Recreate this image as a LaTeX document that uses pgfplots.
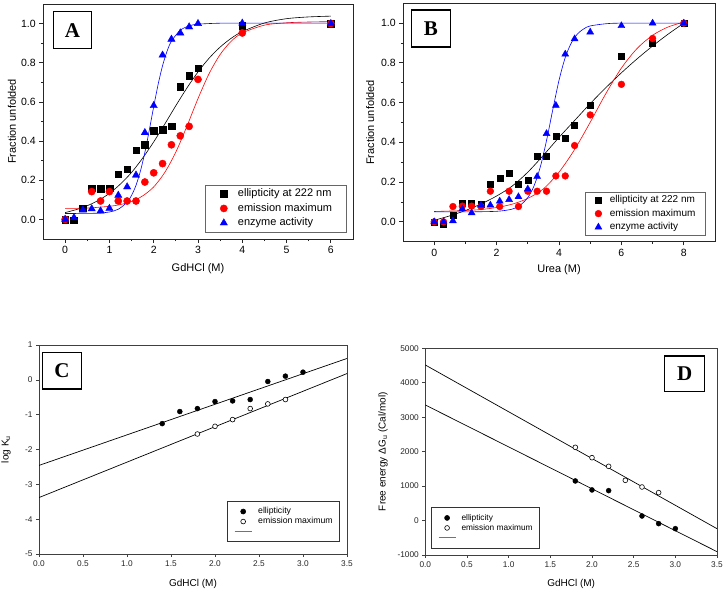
\documentclass[border=0pt]{standalone}
\usepackage{pgfplots}
\pgfplotsset{compat=1.18}
\usepackage{fontspec}
\setmainfont{Liberation Sans}
\newfontfamily\lettfont{Liberation Serif}
\tikzset{letterbox/.style={draw=black, line width=1.5pt, fill=white, inner sep=0pt,
    font=\lettfont\bfseries\fontsize{21}{21}\selectfont}}
\pgfplotsset{
  ABstyle/.style={
    scale only axis,
    axis line style={black!85, line width=0.9pt},
    tick align=outside, tick pos=left,
    major tick length=3.8pt, minor tick length=2.2pt,
    every tick/.style={black!85, line width=0.8pt},
    tick label style={font=\fontsize{10.5}{12}\selectfont},
    /pgf/number format/assume math mode=true,
    label style={font=\fontsize{11}{13}\selectfont},
    ymin=-0.1, ymax=1.1, ytick={0,0.2,...,1.0}, minor y tick num=1,
    yticklabel style={/pgf/number format/.cd, fixed, fixed zerofill, precision=1},
    legend cell align=left,
  },
  CDstyle/.style={
    scale only axis,
    axis line style={black!75, line width=0.6pt},
    tick align=outside, tick pos=left,
    major tick length=3pt,
    every tick/.style={black!75, line width=0.6pt},
    tick label style={font=\fontsize{8.3}{10}\selectfont, black!85},
    /pgf/number format/assume math mode=true,
    label style={font=\fontsize{10}{12}\selectfont},
    xmin=0, xmax=3.5, xtick={0,0.5,...,3.5},
    xticklabel style={/pgf/number format/.cd, fixed, fixed zerofill, precision=1},
    legend cell align=left,
  },
}
\begin{document}
\begin{tikzpicture}
\useasboundingbox (0pt,0pt) rectangle (726pt,592pt);
\fill[white] (0pt,0pt) rectangle (726pt,592pt);

% ---------------- Panel A ----------------
\begin{axis}[ABstyle,
  at={(43pt,353pt)}, anchor=south west, width=310pt, height=235pt,
  xmin=-0.5, xmax=6.5, xtick={0,...,6}, minor x tick num=1,
  xlabel={GdHCl (M)}, ylabel={Fraction unfolded},
  xlabel style={at={(axis description cs:0.5,-0.128)}, anchor=center},
  ylabel style={at={(axis description cs:-0.1,0.5)}, anchor=center, rotate=0},
  legend style={at={(0.98,0.0285)}, anchor=south east, draw=black!60,
    font=\fontsize{11}{13}\selectfont, inner xsep=14.5pt, inner ysep=3.9pt,
    row sep=4pt, column sep=10.5pt,
    nodes={inner sep=0pt, text height=8pt, text depth=2.5pt}},
]
\addplot[black, line width=0.6pt, smooth, forget plot] coordinates {
(0,0.035)(0.25,0.050)(0.5,0.070)(0.75,0.097)(1,0.133)(1.25,0.181)(1.5,0.240)
(1.75,0.313)(2,0.396)(2.25,0.487)(2.5,0.581)(2.75,0.671)(3,0.753)(3.25,0.823)
(3.5,0.880)(3.75,0.925)(4,0.959)(4.5,1.003)(5,1.025)(5.5,1.034)(6,1.038)};
\addplot[red, line width=0.6pt, smooth, forget plot] coordinates {
(0,0.056)(0.5,0.058)(1,0.067)(1.25,0.076)(1.5,0.092)(1.75,0.120)(2,0.166)
(2.25,0.240)(2.5,0.344)(2.75,0.476)(3,0.617)(3.25,0.744)(3.5,0.842)(3.75,0.910)
(4,0.952)(4.5,0.992)(5,1.004)(5.5,1.008)(6,1.010)};
\addplot[blue, line width=0.6pt, smooth, forget plot] coordinates {
(0,0.030)(0.5,0.031)(0.75,0.032)(1,0.038)(1.2,0.052)(1.4,0.088)(1.5,0.123)
(1.6,0.174)(1.7,0.247)(1.8,0.342)(1.9,0.456)(2,0.576)(2.1,0.690)(2.2,0.785)
(2.3,0.858)(2.4,0.910)(2.6,0.966)(2.8,0.988)(3,0.997)(3.5,1.002)(4,1.002)(6,1.002)};
\addplot[only marks, mark=square*, mark size=3.3pt, black] coordinates {
(0,0)(0.2,-0.005)(0.4,0.057)(0.6,0.159)(0.8,0.157)(1.0,0.159)(1.2,0.231)(1.4,0.256)
(1.6,0.354)(1.8,0.381)(2.0,0.453)(2.2,0.458)(2.4,0.477)(2.6,0.677)(2.8,0.735)
(3.0,0.772)(4.0,0.99)(6.0,1.0)};
\addlegendentry{ellipticity at 222 nm}
\addplot[only marks, mark=*, mark size=3.6pt, red] coordinates {
(0,0)(0.6,0.142)(0.8,0.094)(1.0,0.142)(1.2,0.094)(1.4,0.094)(1.6,0.094)(1.8,0.191)
(2.0,0.238)(2.2,0.285)(2.4,0.381)(2.6,0.427)(2.8,0.475)(3.0,0.715)(4.0,0.952)(6.0,1.0)};
\addlegendentry{emission maximum}
\addplot[only marks, mark=triangle*, mark size=4.2pt, blue] coordinates {
(0,0)(0.2,0.009)(0.4,0.048)(0.6,0.054)(0.8,0.043)(1.0,0.056)(1.2,0.123)(1.4,0.166)
(1.6,0.226)(1.8,0.443)(2.0,0.581)(2.2,0.839)(2.4,0.92)(2.6,0.952)(2.8,0.983)
(3.0,1.0)(4.0,1.002)(6.0,1.0)};
\addlegendentry{enzyme activity}
\node[letterbox, minimum width=38pt, minimum height=37pt] at (rel axis cs:0.095,0.889) {A};
\end{axis}

% ---------------- Panel B ----------------
\begin{axis}[ABstyle,
  at={(403pt,350.3pt)}, anchor=south west, width=312pt, height=238.4pt,
  xmin=-1, xmax=9, xtick={0,2,...,8}, minor x tick num=1,
  xlabel={Urea (M)}, ylabel={Fraction unfolded},
  xlabel style={at={(axis description cs:0.5,-0.116)}, anchor=center},
  ylabel style={at={(axis description cs:-0.105,0.5)}, anchor=center, rotate=0},
  legend style={at={(0.97,0.028)}, anchor=south east, draw=black!60,
    font=\fontsize{10}{12}\selectfont, inner xsep=10pt, inner ysep=2.7pt,
    row sep=3.5pt, column sep=8pt,
    nodes={inner sep=0pt, text height=7.5pt, text depth=2.5pt}},
]
\addplot[black, line width=0.6pt, smooth, forget plot] coordinates {
(0,0.008)(0.5,0.030)(1,0.057)(1.5,0.090)(2,0.130)(2.5,0.180)(3,0.250)(3.5,0.335)
(4,0.425)(4.5,0.510)(5,0.595)(5.5,0.675)(6,0.750)(6.5,0.820)(7,0.885)(7.5,0.945)(8,1.0)};
\addplot[red, line width=0.6pt, smooth, forget plot] coordinates {
(0,0.052)(1,0.057)(1.5,0.062)(2,0.072)(2.5,0.089)(3,0.118)(3.5,0.166)(4,0.250)
(4.5,0.364)(5,0.501)(5.5,0.645)(6,0.774)(6.5,0.872)(7,0.939)(7.5,0.981)(8,1.005)};
\addplot[blue, line width=0.6pt, smooth, forget plot] coordinates {
(0,0.05)(1,0.05)(2,0.053)(2.5,0.064)(2.75,0.083)(3,0.122)(3.2,0.181)(3.4,0.276)
(3.6,0.409)(3.8,0.564)(4,0.712)(4.2,0.827)(4.4,0.902)(4.6,0.947)(4.8,0.972)
(5,0.986)(5.5,0.997)(6,1.0)(8,1.0)};
\addplot[only marks, mark=square*, mark size=3.0pt, black] coordinates {
(0,0)(0.3,-0.013)(0.6,0.035)(0.9,0.095)(1.2,0.095)(1.5,0.09)(1.8,0.19)(2.1,0.219)
(2.4,0.243)(2.7,0.19)(3.0,0.208)(3.3,0.332)(3.6,0.332)(3.9,0.429)(4.2,0.422)
(4.5,0.487)(5.0,0.588)(6.0,0.836)(7.0,0.899)(8.0,1.0)};
\addlegendentry{ellipticity at 222 nm}
\addplot[only marks, mark=*, mark size=3.4pt, red] coordinates {
(0,0)(0.3,0.0)(0.6,0.077)(0.9,0.079)(1.2,0.079)(1.5,0.077)(1.8,0.154)(2.1,0.077)
(2.4,0.154)(2.7,0.077)(3.0,0.154)(3.3,0.154)(3.6,0.154)(3.9,0.231)(4.2,0.231)
(4.5,0.384)(5.0,0.538)(6.0,0.692)(7.0,0.923)(8.0,1.0)};
\addlegendentry{emission maximum}
\addplot[only marks, mark=triangle*, mark size=4.0pt, blue] coordinates {
(0,0)(0.3,0.0)(0.6,0.005)(0.9,0.065)(1.2,0.045)(1.5,0.084)(1.8,0.084)(2.1,0.104)
(2.4,0.112)(2.7,0.126)(3.0,0.165)(3.3,0.228)(3.6,0.444)(3.9,0.586)(4.2,0.844)
(4.5,0.921)(5.0,0.955)(6.0,0.987)(7.0,1.0)(8.0,1.0)};
\addlegendentry{enzyme activity}
\node[letterbox, minimum width=39pt, minimum height=37pt] at (rel axis cs:0.089,0.895) {B};
\end{axis}

% ---------------- Panel C ----------------
\begin{axis}[CDstyle,
  at={(39pt,38pt)}, anchor=south west, width=308pt, height=209pt,
  ymin=-5, ymax=1, ytick={-5,...,1},
  xlabel={GdHCl (M)}, ylabel={log K\textsubscript{u}},
  xlabel style={at={(axis description cs:0.5,-0.1435)}, anchor=center},
  ylabel style={at={(axis description cs:-0.107,0.5)}, anchor=center, rotate=0},
  legend style={at={(0.977,0.057)}, anchor=south east, draw=black!80, line width=0.6pt,
    font=\fontsize{8.7}{10}\selectfont, inner xsep=7pt, inner ysep=6pt,
    row sep=1.5pt, column sep=6pt,
    nodes={inner sep=0pt, text height=6.5pt, text depth=2pt}},
]
\addplot[black, line width=0.7pt, forget plot] coordinates {(0,-2.457)(3.5,0.614)};
\addplot[black, line width=0.7pt, forget plot] coordinates {(0,-3.38)(3.5,0.18)};
\addplot[only marks, mark=*, mark size=2.5pt, black] coordinates {
(1.4,-1.257)(1.6,-0.91)(1.8,-0.825)(2.0,-0.624)(2.2,-0.605)(2.4,-0.566)
(2.6,-0.048)(2.8,0.106)(3.0,0.22)};
\addlegendentry{ellipticity}
\addplot[only marks, mark=*, mark size=2.4pt, black, mark options={fill=white, line width=0.6pt}] coordinates {
(1.8,-1.555)(2.0,-1.334)(2.2,-1.142)(2.4,-0.825)(2.6,-0.691)(2.8,-0.566)};
\addlegendentry{emission maximum}
\addlegendimage{black!55, line width=0.9pt}
\addlegendentry{}
\node[letterbox, minimum width=39pt, minimum height=36.6pt] at (rel axis cs:0.0747,0.876) {C};
\end{axis}

% ---------------- Panel D ----------------
\begin{axis}[CDstyle,
  at={(425.3pt,37pt)}, anchor=south west, width=291.7pt, height=206.7pt,
  ymin=-1000, ymax=5000, ytick={-1000,0,...,5000},
  yticklabel style={/pgf/number format/1000 sep={}},
  xlabel={GdHCl (M)}, ylabel={Free energy ΔG\textsubscript{u} (Cal/mol)},
  xlabel style={at={(axis description cs:0.5,-0.14)}, anchor=center},
  ylabel style={at={(axis description cs:-0.145,0.5)}, anchor=center, rotate=0},
  legend style={at={(0.0206,0.032)}, anchor=south west, draw=black!80, line width=0.6pt,
    font=\fontsize{8.3}{10}\selectfont, inner xsep=6.5pt, inner ysep=6pt,
    row sep=1.7pt, column sep=5.5pt,
    nodes={inner sep=0pt, text height=6.3pt, text depth=2pt}},
]
\addplot[black, line width=0.7pt, forget plot] coordinates {(0,4516)(3.5,-236)};
\addplot[black, line width=0.7pt, forget plot] coordinates {(0,3355)(3.5,-903)};
\addplot[only marks, mark=*, mark size=2.5pt, black] coordinates {
(1.8,1149)(2.0,888)(2.2,868)(2.6,132)(2.8,-90)(3.0,-235)};
\addlegendentry{ellipticity}
\addplot[only marks, mark=*, mark size=2.4pt, black, mark options={fill=white, line width=0.6pt}] coordinates {
(1.8,2126)(2.0,1826)(2.2,1574)(2.4,1168)(2.6,974)(2.8,810)};
\addlegendentry{emission maximum}
\addlegendimage{black!55, line width=0.9pt}
\addlegendentry{}
\node[letterbox, minimum width=40pt, minimum height=35.7pt] at (rel axis cs:0.889,0.877) {D};
\end{axis}
\end{tikzpicture}
\end{document}
